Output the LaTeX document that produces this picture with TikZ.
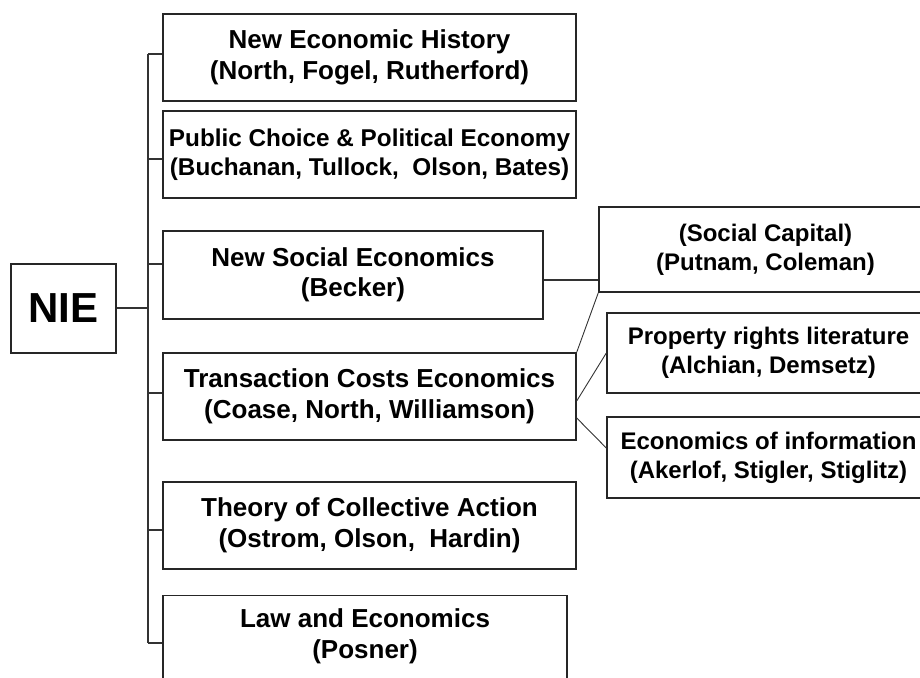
\documentclass[tikz,border=0pt]{standalone}
\usepackage{fontspec}
\setmainfont{Liberation Sans}
\begin{document}
\begin{tikzpicture}[x=1pt,y=-1pt,
  box/.style={draw=black!85, line width=1.4pt, fill=white, align=center, inner sep=0pt,
    font=\bfseries\fontsize{26}{30.5}\selectfont},
  rbox/.style={box, font=\bfseries\fontsize{24}{29}\selectfont},
  conn/.style={draw=black!80, line width=1.2pt},
  thin/.style={draw=black!80, line width=0.9pt}]
\useasboundingbox (0,0) rectangle (920,677);
\clip (0,0) rectangle (920,677);
% main boxes
\node[box, font=\bfseries\fontsize{42}{48}\selectfont, minimum width=105pt, minimum height=89pt] (nie) at (63.5,308.5) {NIE};
\node[box, minimum width=413pt, minimum height=87pt] (b1) at (369.5,57.5) {New Economic History\\(North, Fogel, Rutherford)};
\node[box, font=\bfseries\fontsize{24.3}{29}\selectfont, minimum width=413pt, minimum height=87pt] (b2) at (369.5,154.5) {Public Choice \& Political Economy\\(Buchanan, Tullock,~ Olson, Bates)};
\node[box, minimum width=380pt, minimum height=88pt] (b3) at (353,275) {New Social Economics\\(Becker)};
\node[box, minimum width=413pt, minimum height=87pt] (b4) at (369.5,396.5) {Transaction Costs Economics\\(Coase, North, Williamson)};
\node[box, minimum width=413pt, minimum height=87pt] (b5) at (369.5,525.5) {Theory of Collective Action\\(Ostrom, Olson,~ Hardin)};
\node[box, minimum width=404pt, anchor=north, inner ysep=13pt, text depth=70pt] (b6) at (365,595) {Law and Economics\\(Posner)};
% right boxes
\node[rbox, minimum width=333pt, minimum height=85pt] (sc) at (765.5,249.5) {(Social Capital)\\(Putnam, Coleman)};
\node[rbox, minimum width=323pt, minimum height=80pt] (pr) at (768.5,353) {Property rights literature\\(Alchian, Demsetz)};
\node[rbox, minimum width=323pt, minimum height=81pt] (ei) at (768.5,457.5) {Economics of information\\(Akerlof, Stigler, Stiglitz)};
% trunk
\coordinate (ttop) at (148,54);
\coordinate (tbot) at (148,643);
\coordinate (tnie) at (148,308);
\draw[conn] (ttop) -- (tbot);
\draw[conn] (nie.east |- tnie) -- (tnie);
\coordinate (t1) at (148,54);
\coordinate (t2) at (148,159);
\coordinate (t3) at (148,264);
\coordinate (t4) at (148,393);
\coordinate (t5) at (148,530);
\coordinate (t6) at (148,643);
\draw[conn] (t1) -- (b1.west |- t1);
\draw[conn] (t2) -- (b2.west |- t2);
\draw[conn] (t3) -- (b3.west |- t3);
\draw[conn] (t4) -- (b4.west |- t4);
\draw[conn] (t5) -- (b5.west |- t5);
\draw[conn] (t6) -- (b6.west |- t6);
% right connectors
\coordinate (s3) at (543,280);
\draw[conn] (b3.east |- s3) -- (sc.west |- s3);
\draw[thin] (sc.south west) -- (b4.north east);
\coordinate (e4a) at (576,401);
\coordinate (e4b) at (576,418);
\coordinate (eiw) at (607,448);
\draw[thin] (b4.east |- e4a) -- (pr.west);
\draw[thin] (b4.east |- e4b) -- (ei.west |- eiw);
\end{tikzpicture}
\end{document}
